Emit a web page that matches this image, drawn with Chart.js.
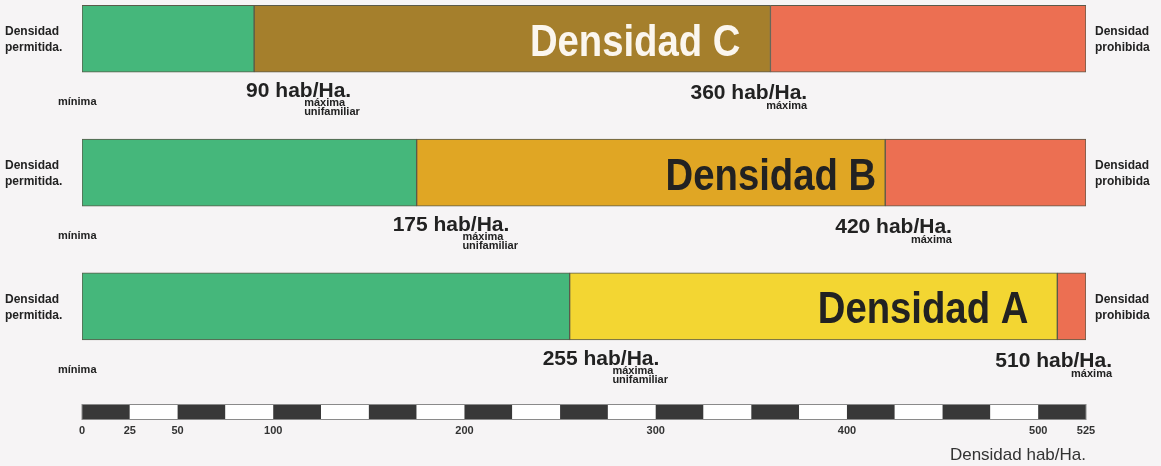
<!DOCTYPE html>
<html>
<head>
<meta charset="utf-8">
<title>Densidad hab/Ha.</title>
<script src="https://cdn.jsdelivr.net/npm/chart.js@4.4.1/dist/chart.umd.min.js"></script>
<style>
    body { margin: 0; background: #f6f4f5; }
    #wrap { width: 1161px; height: 466px; }
</style>
</head>
<body>
<div id="wrap"><canvas id="myChart" width="1161" height="466"></canvas></div>
<script>
// rows top to bottom
let rows = ['Densidad C', 'Densidad B', 'Densidad A'];
let rowIndex = [1, 2, 3];
// máxima unifamiliar / máxima (hab/Ha.)
let minUnifamiliar = [90, 175, 255];
let maxDensidad = [360, 420, 510];
let scaleMax = 525;
let scaleStep = 25;
let scaleTicks = [0, 25, 50, 100, 200, 300, 400, 500, 525];

let green = '#45b77b';
let red = '#ec6f52';
let middleColors = ['#a57f2c', '#e0a624', '#f3d632'];
let titleColors = ['#fbf6ee', '#222222', '#222222'];
let font = "'Liberation Sans', Arial, Helvetica, sans-serif";

let greenData = [];
let middleData = [];
let redData = [];
for (let i = 0; i < rows.length; i++) {
    greenData.push({ x: [0, minUnifamiliar[i]], y: rowIndex[i] });
    middleData.push({ x: [minUnifamiliar[i], maxDensidad[i]], y: rowIndex[i] });
    redData.push({ x: [maxDensidad[i], scaleMax], y: rowIndex[i] });
}

// black/white graduated bar under the plot area, drawn on the x scale
const scaleBar = {
    id: 'scaleBar',
    afterDraw(chart) {
        let ctx = chart.ctx;
        let x = chart.scales.x;
        let top = chart.chartArea.bottom;
        let h = 16;
        ctx.save();
        let n = 0;
        for (let v = 0; v < scaleMax; v += scaleStep) {
            let x0 = x.getPixelForValue(v);
            let x1 = x.getPixelForValue(Math.min(v + scaleStep, scaleMax));
            ctx.fillStyle = n % 2 == 0 ? '#383838' : '#ffffff';
            ctx.fillRect(x0, top, x1 - x0, h);
            n++;
        }
        ctx.strokeStyle = '#8a8a8a';
        ctx.lineWidth = 1;
        ctx.strokeRect(x.getPixelForValue(0), top + 0.5, x.getPixelForValue(scaleMax) - x.getPixelForValue(0), h - 1);
        ctx.restore();
    }
};

// texts around each bar
const barTexts = {
    id: 'barTexts',
    afterDatasetsDraw(chart) {
        let ctx = chart.ctx;
        let x = chart.scales.x;
        let area = chart.chartArea;
        let minShift = [-8, -24, -27];
        let maxShift = [-80, -50, -62];
        let titleGap = [30, 9, 29];
        ctx.save();
        ctx.fillStyle = '#222';
        for (let i = 0; i < rows.length; i++) {
            let bar = chart.getDatasetMeta(0).data[i];
            let cy = bar.y;
            let bottom = bar.y + bar.height / 2;

            ctx.textBaseline = 'middle';
            ctx.font = 'bold 12px ' + font;
            ctx.fillStyle = '#222';
            ctx.textAlign = 'left';
            ctx.fillText('Densidad', 5, cy - 7);
            ctx.fillText('permitida.', 5, cy + 9);
            ctx.fillText('Densidad', area.right + 9, cy - 7);
            ctx.fillText('prohibida', area.right + 9, cy + 9);

            // big name inside the middle segment
            ctx.textBaseline = 'alphabetic';
            ctx.textAlign = 'right';
            ctx.font = 'bold 44px ' + font;
            ctx.fillStyle = titleColors[i];
            let tx = x.getPixelForValue(maxDensidad[i]) - titleGap[i];
            ctx.save();
            ctx.translate(tx, cy + 17);
            ctx.scale(0.87, 1);
            ctx.fillText(rows[i], 0, 0);
            ctx.restore();

            ctx.fillStyle = '#222';
            ctx.textAlign = 'left';
            ctx.font = 'bold 11px ' + font;
            ctx.fillText('mínima', 58, bottom + 33);

            // máxima unifamiliar
            let minText = minUnifamiliar[i] + ' hab/Ha.';
            ctx.font = 'bold 21px ' + font;
            let lx = x.getPixelForValue(minUnifamiliar[i]) + minShift[i];
            ctx.fillText(minText, lx, bottom + 25);
            let lw = ctx.measureText(minText).width;
            ctx.font = 'bold 11px ' + font;
            ctx.fillText('máxima', lx + lw - 47, bottom + 34);
            ctx.fillText('unifamiliar', lx + lw - 47, bottom + 43);

            // máxima
            let maxText = maxDensidad[i] + ' hab/Ha.';
            ctx.font = 'bold 21px ' + font;
            let mx = x.getPixelForValue(maxDensidad[i]) + maxShift[i];
            ctx.fillText(maxText, mx, bottom + 27);
            let mw = ctx.measureText(maxText).width;
            ctx.font = 'bold 11px ' + font;
            ctx.textAlign = 'right';
            ctx.fillText('máxima', mx + mw, bottom + 37);
        }
        ctx.restore();
    }
};

const config = {
    type: 'bar',
    data: {
        datasets: [{
                label: 'mínima',
                data: greenData,
                backgroundColor: green
            },
            {
                label: 'máxima unifamiliar',
                data: middleData,
                backgroundColor: middleColors
            },
            {
                label: 'máxima',
                data: redData,
                backgroundColor: red
            }
        ]
    },
    options: {
        indexAxis: 'y',
        responsive: false,
        animation: false,
        layout: {
            padding: { left: 82, right: 75, top: 0, bottom: 0 }
        },
        datasets: {
            bar: {
                grouped: false,
                barThickness: 67,
                borderColor: '#5a5a4a',
                borderWidth: 1,
                borderSkipped: false
            }
        },
        plugins: {
            legend: { display: false },
            tooltip: { enabled: false }
        },
        scales: {
            x: {
                type: 'linear',
                position: 'bottom',
                min: 0,
                max: scaleMax,
                afterBuildTicks: scale => {
                    scale.ticks = scaleTicks.map(v => ({ value: v }));
                },
                afterFit: scale => {
                    scale.height = 62;
                },
                grid: { display: false, drawTicks: false },
                border: { display: false },
                ticks: {
                    padding: 20,
                    autoSkip: false,
                    maxRotation: 0,
                    color: '#333',
                    font: { family: font, size: 11, weight: 'bold' }
                },
                title: {
                    display: true,
                    text: 'Densidad hab/Ha.',
                    align: 'end',
                    color: '#333',
                    padding: { top: 4, bottom: 0 },
                    font: { family: font, size: 17 }
                }
            },
            y: {
                type: 'linear',
                display: false,
                offset: false,
                reverse: true,
                min: 0.71,
                max: 3.73
            }
        }
    },
    plugins: [barTexts, scaleBar]
};

let myChart = new Chart(document.getElementById('myChart'), config);
</script>
</body>
</html>
